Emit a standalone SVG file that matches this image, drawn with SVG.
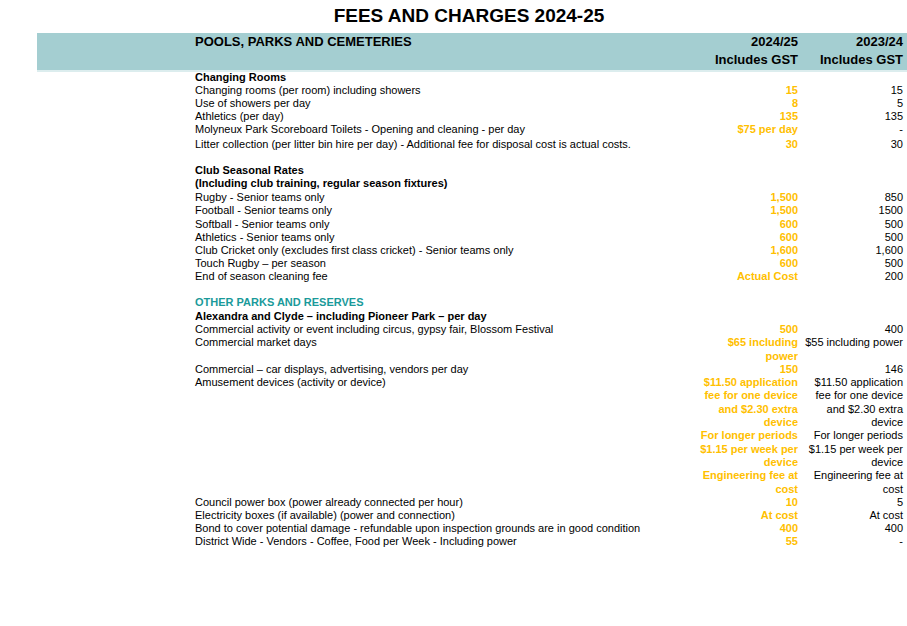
<svg xmlns="http://www.w3.org/2000/svg" width="907" height="626" viewBox="0 0 907 626">
<style>
text{font-family:"Liberation Sans",Arial,sans-serif;font-size:11px;fill:#000}
.b{font-weight:bold}
.h{font-weight:bold;font-size:13px}
.y{fill:#FFC000;font-weight:bold;text-anchor:end}
.r{text-anchor:end}
.t{fill:#1A9A9A;font-weight:bold}
</style>
<rect width="907" height="626" fill="#fff"/>
<text x="469" y="22" text-anchor="middle" style="font-size:19px;font-weight:bold">FEES AND CHARGES 2024-25</text>
<rect x="37" y="33" width="870" height="37" fill="#A4CED1"/>
<rect x="37" y="70" width="870" height="2" fill="#DCEDEE"/>
<text class="h" x="195" y="46">POOLS, PARKS AND CEMETERIES</text>
<text class="h" x="798" y="46" text-anchor="end">2024/25</text>
<text class="h" x="903" y="46" text-anchor="end">2023/24</text>
<text class="h" x="798" y="64" text-anchor="end">Includes GST</text>
<text class="h" x="903" y="64" text-anchor="end">Includes GST</text>
<g>
<text class="b" x="195" y="81">Changing Rooms</text>
<text x="195" y="94">Changing rooms (per room) including showers</text><text class="y" x="798" y="94">15</text><text class="r" x="903" y="94">15</text>
<text x="195" y="107">Use of showers per day</text><text class="y" x="798" y="107">8</text><text class="r" x="903" y="107">5</text>
<text x="195" y="120">Athletics (per day)</text><text class="y" x="798" y="120">135</text><text class="r" x="903" y="120">135</text>
<text x="195" y="133">Molyneux Park Scoreboard Toilets - Opening and cleaning - per day</text><text class="y" x="798" y="133">$75 per day</text><text class="r" x="903" y="133">-</text>
<text x="195" y="148">Litter collection (per litter bin hire per day) - Additional fee for disposal cost is actual costs.</text><text class="y" x="798" y="148">30</text><text class="r" x="903" y="148">30</text>
</g>
<g>
<text class="b" x="195" y="174">Club Seasonal Rates</text>
<text class="b" x="195" y="187">(Including club training, regular season fixtures)</text>
<text x="195" y="201">Rugby - Senior teams only</text><text class="y" x="798" y="201">1,500</text><text class="r" x="903" y="201">850</text>
<text x="195" y="214">Football - Senior teams only</text><text class="y" x="798" y="214">1,500</text><text class="r" x="903" y="214">1500</text>
<text x="195" y="228">Softball - Senior teams only</text><text class="y" x="798" y="228">600</text><text class="r" x="903" y="228">500</text>
<text x="195" y="241">Athletics - Senior teams only</text><text class="y" x="798" y="241">600</text><text class="r" x="903" y="241">500</text>
<text x="195" y="254">Club Cricket only (excludes first class cricket) - Senior teams only</text><text class="y" x="798" y="254">1,600</text><text class="r" x="903" y="254">1,600</text>
<text x="195" y="267">Touch Rugby – per season</text><text class="y" x="798" y="267">600</text><text class="r" x="903" y="267">500</text>
<text x="195" y="280">End of season cleaning fee</text><text class="y" x="798" y="280">Actual Cost</text><text class="r" x="903" y="280">200</text>
</g>
<g>
<text class="t" x="195" y="306">OTHER PARKS AND RESERVES</text>
<text class="b" x="195" y="320">Alexandra and Clyde – including Pioneer Park – per day</text>
<text x="195" y="333">Commercial activity or event including circus, gypsy fair, Blossom Festival</text><text class="y" x="798" y="333">500</text><text class="r" x="903" y="333">400</text>
<text x="195" y="346">Commercial market days</text><text class="y" x="798" y="346">$65 including</text><text class="r" x="903" y="346">$55 including power</text>
<text class="y" x="798" y="360">power</text>
<text x="195" y="373">Commercial – car displays, advertising, vendors per day</text><text class="y" x="798" y="373">150</text><text class="r" x="903" y="373">146</text>
<text x="195" y="386">Amusement devices (activity or device)</text><text class="y" x="798" y="386">$11.50 application</text><text class="r" x="903" y="386">$11.50 application</text>
<text class="y" x="798" y="399">fee for one device</text><text class="r" x="903" y="399">fee for one device</text>
<text class="y" x="798" y="413">and $2.30 extra</text><text class="r" x="903" y="413">and $2.30 extra</text>
<text class="y" x="798" y="426">device</text><text class="r" x="903" y="426">device</text>
<text class="y" x="798" y="439">For longer periods</text><text class="r" x="903" y="439">For longer periods</text>
<text class="y" x="798" y="453">$1.15 per week per</text><text class="r" x="903" y="453">$1.15 per week per</text>
<text class="y" x="798" y="466">device</text><text class="r" x="903" y="466">device</text>
<text class="y" x="798" y="479">Engineering fee at</text><text class="r" x="903" y="479">Engineering fee at</text>
<text class="y" x="798" y="493">cost</text><text class="r" x="903" y="493">cost</text>
<text x="195" y="506">Council power box (power already connected per hour)</text><text class="y" x="798" y="506">10</text><text class="r" x="903" y="506">5</text>
<text x="195" y="519">Electricity boxes (if available) (power and connection)</text><text class="y" x="798" y="519">At cost</text><text class="r" x="903" y="519">At cost</text>
<text x="195" y="532">Bond to cover potential damage - refundable upon inspection grounds are in good condition</text><text class="y" x="798" y="532">400</text><text class="r" x="903" y="532">400</text>
<text x="195" y="545">District Wide - Vendors - Coffee, Food per Week - Including power</text><text class="y" x="798" y="545">55</text><text class="r" x="903" y="545">-</text>
</g>
</svg>
